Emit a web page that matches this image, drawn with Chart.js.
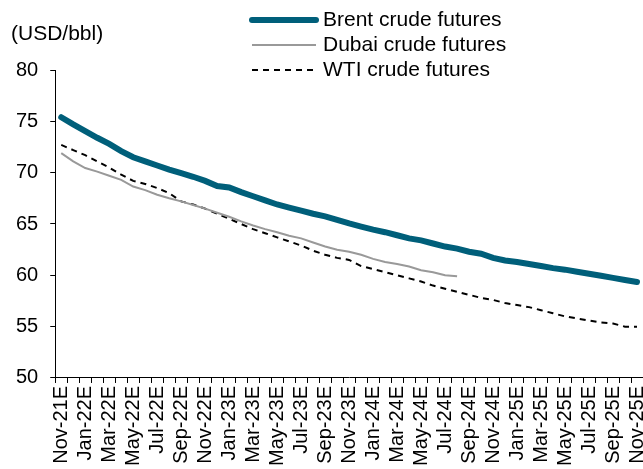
<!DOCTYPE html>
<html lang="en">
<head>
    <meta charset="UTF-8">
    <title>Crude futures curves</title>
    <script src="https://cdn.jsdelivr.net/npm/chart.js"></script>
    <style>
        body { margin: 0; background: #fff; }
        #wrap { width: 643px; height: 469px; position: relative; }
    </style>
</head>
<body>
    <div id="wrap"><canvas id="futuresChart"></canvas></div>
    <script>
        // monthly contract months, Nov-21 to Nov-25
        const months = [
            "Nov-21E", "Dec-21E",
            "Jan-22E", "Feb-22E", "Mar-22E", "Apr-22E", "May-22E", "Jun-22E", "Jul-22E", "Aug-22E", "Sep-22E", "Oct-22E", "Nov-22E", "Dec-22E",
            "Jan-23E", "Feb-23E", "Mar-23E", "Apr-23E", "May-23E", "Jun-23E", "Jul-23E", "Aug-23E", "Sep-23E", "Oct-23E", "Nov-23E", "Dec-23E",
            "Jan-24E", "Feb-24E", "Mar-24E", "Apr-24E", "May-24E", "Jun-24E", "Jul-24E", "Aug-24E", "Sep-24E", "Oct-24E", "Nov-24E", "Dec-24E",
            "Jan-25E", "Feb-25E", "Mar-25E", "Apr-25E", "May-25E", "Jun-25E", "Jul-25E", "Aug-25E", "Sep-25E", "Oct-25E", "Nov-25E"
        ];
        const brent = [
            75.4, 74.7, 74.05, 73.4, 72.8, 72.1, 71.5, 71.1, 70.7, 70.3, 69.95, 69.6, 69.2, 68.7,
            68.55, 68.1, 67.7, 67.3, 66.9, 66.6, 66.3, 66.0, 65.75, 65.4, 65.05, 64.75,
            64.45, 64.2, 63.9, 63.6, 63.4, 63.1, 62.8, 62.6, 62.3, 62.1, 61.7, 61.45,
            61.3, 61.1, 60.9, 60.7, 60.55, 60.35, 60.15, 59.95, 59.75, 59.55, 59.35
        ];
        const dubai = [
            71.9, 71.1, 70.45, 70.1, 69.7, 69.3, 68.65, 68.3, 67.85, 67.5, 67.2, 66.85, 66.5, 66.1,
            65.7, 65.25, 64.85, 64.5, 64.2, 63.85, 63.6, 63.2, 62.8, 62.5, 62.3, 62.0,
            61.6, 61.3, 61.1, 60.85, 60.5, 60.3, 60.0, 59.9
        ];
        const wti = [
            72.7, 72.2, 71.7, 71.1, 70.5, 69.8, 69.2, 68.9, 68.5, 68.0, 67.2, 66.9, 66.5, 66.0,
            65.5, 65.0, 64.5, 64.1, 63.7, 63.3, 62.9, 62.4, 62.0, 61.7, 61.5, 60.9,
            60.6, 60.3, 60.0, 59.7, 59.4, 59.0, 58.7, 58.4, 58.1, 57.8, 57.6, 57.3,
            57.1, 56.9, 56.6, 56.3, 56.0, 55.8, 55.6, 55.4, 55.3, 55.0, 55.0
        ];
        const yTicks = [50, 55, 60, 65, 70, 75, 80];

        const fontFamily = '"Liberation Sans", Arial, sans-serif';
        Chart.defaults.font.family = fontFamily;
        Chart.defaults.font.size = 20;
        Chart.defaults.color = '#000';

        // vertical legend and unit label drawn on the canvas
        const extras = {
            id: 'extras',
            afterDraw(chart) {
                const ctx = chart.ctx;
                ctx.save();
                ctx.font = '21px ' + fontFamily;
                ctx.fillStyle = '#000';
                ctx.textBaseline = 'middle';
                ctx.textAlign = 'left';
                ctx.fillText('(USD/bbl)', 11, 34);
                const rows = [20, 45, 70];
                chart.data.datasets.forEach((ds, i) => {
                    const y = rows[i];
                    ctx.beginPath();
                    ctx.strokeStyle = ds.borderColor;
                    ctx.lineWidth = ds.borderWidth;
                    ctx.lineCap = ds.borderCapStyle || 'butt';
                    ctx.setLineDash(ds.borderDash || []);
                    ctx.moveTo(252, y);
                    ctx.lineTo(316, y);
                    ctx.stroke();
                    ctx.setLineDash([]);
                    ctx.fillText(ds.label, 323, y);
                });
                ctx.restore();
            }
        };

        new Chart(document.getElementById('futuresChart'), {
            type: 'line',
            data: {
                labels: months,
                datasets: [
                    { label: 'Brent crude futures', data: brent, borderColor: '#005f7a', borderWidth: 6, borderCapStyle: 'round', pointRadius: 0 },
                    { label: 'Dubai crude futures', data: dubai, borderColor: '#999999', borderWidth: 2, pointRadius: 0 },
                    { label: 'WTI crude futures', data: wti, borderColor: '#000000', borderWidth: 2, borderDash: [6, 5], pointRadius: 0 }
                ]
            },
            options: {
                responsive: true,
                maintainAspectRatio: false,
                animation: false,
                layout: { padding: { left: 4, top: 70, right: 0, bottom: 0 } },
                plugins: { legend: { display: false }, tooltip: { enabled: false } },
                scales: {
                    x: {
                        offset: true,
                        border: { color: '#000', width: 1 },
                        grid: { offset: true, drawOnChartArea: false, color: '#000', tickLength: 5 },
                        ticks: {
                            autoSkip: false,
                            maxRotation: 90,
                            minRotation: 90,
                            padding: 3,
                            callback: (v, i) => (i % 2 === 0 ? months[i] : '')
                        },
                        afterFit: scale => { scale.paddingLeft = 0; scale.paddingRight = 0; }
                    },
                    y: {
                        min: 50,
                        max: 80,
                        afterBuildTicks: axis => { axis.ticks = yTicks.map(v => ({ value: v })); },
                        border: { color: '#000', width: 1 },
                        grid: { drawOnChartArea: false, color: '#000', tickLength: 5 },
                        ticks: { padding: 12 }
                    }
                }
            },
            plugins: [extras]
        });
    </script>
</body>
</html>
